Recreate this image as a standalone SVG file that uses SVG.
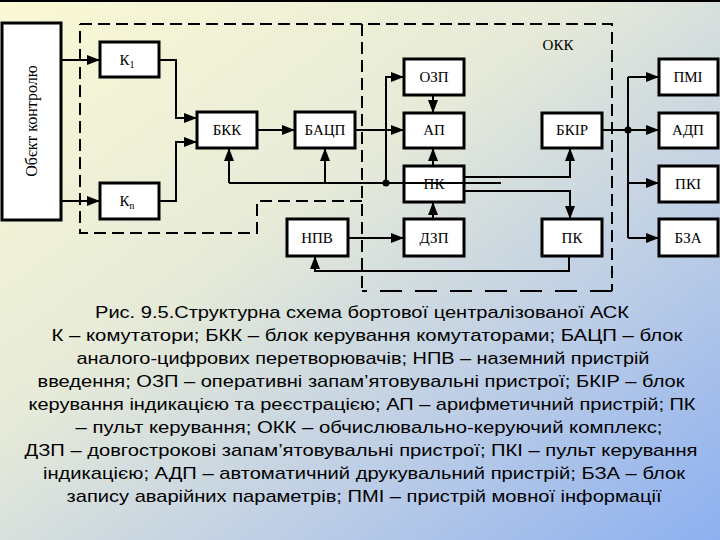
<svg xmlns="http://www.w3.org/2000/svg" width="720" height="540" viewBox="0 0 720 540">
<defs>
<linearGradient id="bg" x1="0" y1="0" x2="1" y2="1">
<stop offset="0" stop-color="#fbf9d4"/>
<stop offset="0.4" stop-color="#e6ead8"/>
<stop offset="0.7" stop-color="#bccde6"/>
<stop offset="1" stop-color="#8db0f0"/>
</linearGradient>
<marker id="ah" markerUnits="userSpaceOnUse" markerWidth="13" markerHeight="10" refX="13" refY="5" orient="auto">
<path d="M0,0 L13,5 L0,10 Z" fill="#000"/>
</marker>
<style>
.box{fill:#fff;stroke:#000;stroke-width:3}
.lbl{font-family:"Liberation Serif","Times New Roman",serif;font-size:15px;text-anchor:middle;fill:#000}
.ln{fill:none;stroke:#000;stroke-width:2}
.ar{fill:none;stroke:#000;stroke-width:2;marker-end:url(#ah)}
.dash{fill:none;stroke:#000;stroke-width:2;stroke-dasharray:12 6}
.cap{font-family:"Liberation Sans",Arial,sans-serif;font-size:17px;text-anchor:middle;fill:#000}
</style>
</defs>
<rect width="720" height="540" fill="url(#bg)"/>
<line x1="0" y1="1" x2="720" y2="1" stroke="#000" stroke-width="2"/>

<g id="boundaries">
<path class="dash" d="M80,24 H612 V291"/>
<path class="dash" d="M612,291 H362" style="stroke-dasharray:22 13"/>
<path class="dash" d="M362,24 V291"/>
<path class="dash" d="M362,201 H257 V233 H80 V24"/>
<text class="lbl" x="558" y="50">ОКК</text>
</g>

<g id="obj"><rect class="box" x="2" y="23" width="59" height="197"/>
<text class="lbl" transform="translate(37,121) rotate(-90)" style="font-size:16px">Обєкт контролю</text></g>
<g id="k1"><rect class="box" x="100" y="42" width="59" height="35"/><text class="lbl" x="127" y="65">К<tspan style="font-size:10px" dy="3">1</tspan></text></g>
<g id="kn"><rect class="box" x="100" y="183" width="59" height="36"/><text class="lbl" x="127" y="206">К<tspan style="font-size:10px" dy="3">n</tspan></text></g>
<g id="bkk"><rect class="box" x="197" y="112" width="60" height="36"/><text class="lbl" x="227" y="135">БКК</text></g>
<g id="bacp"><rect class="box" x="295" y="112" width="60" height="36"/><text class="lbl" x="325" y="135">БАЦП</text></g>
<g id="ozp"><rect class="box" x="404" y="59" width="60" height="36"/><text class="lbl" x="434" y="82">ОЗП</text></g>
<g id="ap"><rect class="box" x="404" y="113" width="60" height="35"/><text class="lbl" x="434" y="135">АП</text></g>
<g id="pk1"><rect class="box" x="404" y="166" width="60" height="36"/><text class="lbl" x="434" y="189">ПК</text></g>
<g id="dzp"><rect class="box" x="404" y="219" width="60" height="37"/><text class="lbl" x="434" y="243">ДЗП</text></g>
<g id="npv"><rect class="box" x="287" y="219" width="61" height="37"/><text class="lbl" x="317" y="243">НПВ</text></g>
<g id="bkir"><rect class="box" x="542" y="113" width="60" height="35"/><text class="lbl" x="572" y="135">БКІР</text></g>
<g id="pk2"><rect class="box" x="542" y="219" width="60" height="37"/><text class="lbl" x="572" y="243">ПК</text></g>
<g id="pmi"><rect class="box" x="659" y="59" width="59" height="36"/><text class="lbl" x="688" y="82">ПМІ</text></g>
<g id="adp"><rect class="box" x="659" y="113" width="59" height="35"/><text class="lbl" x="688" y="135">АДП</text></g>
<g id="pki"><rect class="box" x="659" y="166" width="59" height="36"/><text class="lbl" x="688" y="189">ПКІ</text></g>
<g id="bza"><rect class="box" x="659" y="219" width="59" height="37"/><text class="lbl" x="688" y="243">БЗА</text></g>

<g id="connectors">
<path class="ar" d="M61,60 H100"/>
<path class="ar" d="M61,201 H100"/>
<path class="ar" d="M159,60 H176 V118 H197"/>
<path class="ar" d="M159,201 H176 V142 H197"/>
<path class="ar" d="M257,130 H295"/>
<path class="ar" d="M355,130 H404"/>
<path class="ln" d="M229,183 H501"/>
<path class="ar" d="M229,183 V148"/>
<path class="ar" d="M325,183 V148"/>
<path class="ar" d="M386,183 V77 H404"/>
<circle cx="386" cy="183" r="3.5" fill="#000"/>
<path class="ar" d="M433,95 V113"/>
<path class="ar" d="M433,166 V148"/>
<path class="ar" d="M433,219 V202"/>
<path class="ar" d="M348,238 H404"/>
<path class="ar" d="M569,256 V271 H315 V256"/>
<path class="ar" d="M464,177 H570 V148"/>
<path class="ar" d="M464,191 H570 V219"/>
<path class="ar" d="M602,130 H659"/>
<circle cx="628" cy="130" r="3.5" fill="#000"/>
<path class="ln" d="M628,77 V238"/>
<path class="ar" d="M628,77 H659"/>
<path class="ar" d="M628,183 H659"/>
<path class="ar" d="M628,238 H659"/>
</g>

<g id="caption">
<text class="cap" x="362" y="318" textLength="534" lengthAdjust="spacingAndGlyphs">Рис. 9.5.Структурна схема бортової централізованої АСК</text>
<text class="cap" x="367" y="341" textLength="631" lengthAdjust="spacingAndGlyphs">К – комутатори; БКК – блок керування комутаторами; БАЦП – блок</text>
<text class="cap" x="363" y="364" textLength="573" lengthAdjust="spacingAndGlyphs">аналого-цифрових перетворювачів; НПВ – наземний пристрій</text>
<text class="cap" x="361" y="387" textLength="647" lengthAdjust="spacingAndGlyphs">введення; ОЗП – оперативні запам’ятовувальні пристрої; БКІР – блок</text>
<text class="cap" x="362" y="410" textLength="667" lengthAdjust="spacingAndGlyphs">керування індикацією та реєстрацією; АП – арифметичний пристрій; ПК</text>
<text class="cap" x="369" y="433" textLength="587" lengthAdjust="spacingAndGlyphs">– пульт керування; ОКК – обчислювально-керуючий комплекс;</text>
<text class="cap" x="361" y="456" textLength="673" lengthAdjust="spacingAndGlyphs">ДЗП – довгострокові запам’ятовувальні пристрої; ПКІ – пульт керування</text>
<text class="cap" x="364" y="479" textLength="642" lengthAdjust="spacingAndGlyphs">індикацією; АДП – автоматичний друкувальний пристрій; БЗА – блок</text>
<text class="cap" x="364" y="502" textLength="595" lengthAdjust="spacingAndGlyphs">запису аварійних параметрів; ПМІ – пристрій мовної інформації</text>
</g>
</svg>
